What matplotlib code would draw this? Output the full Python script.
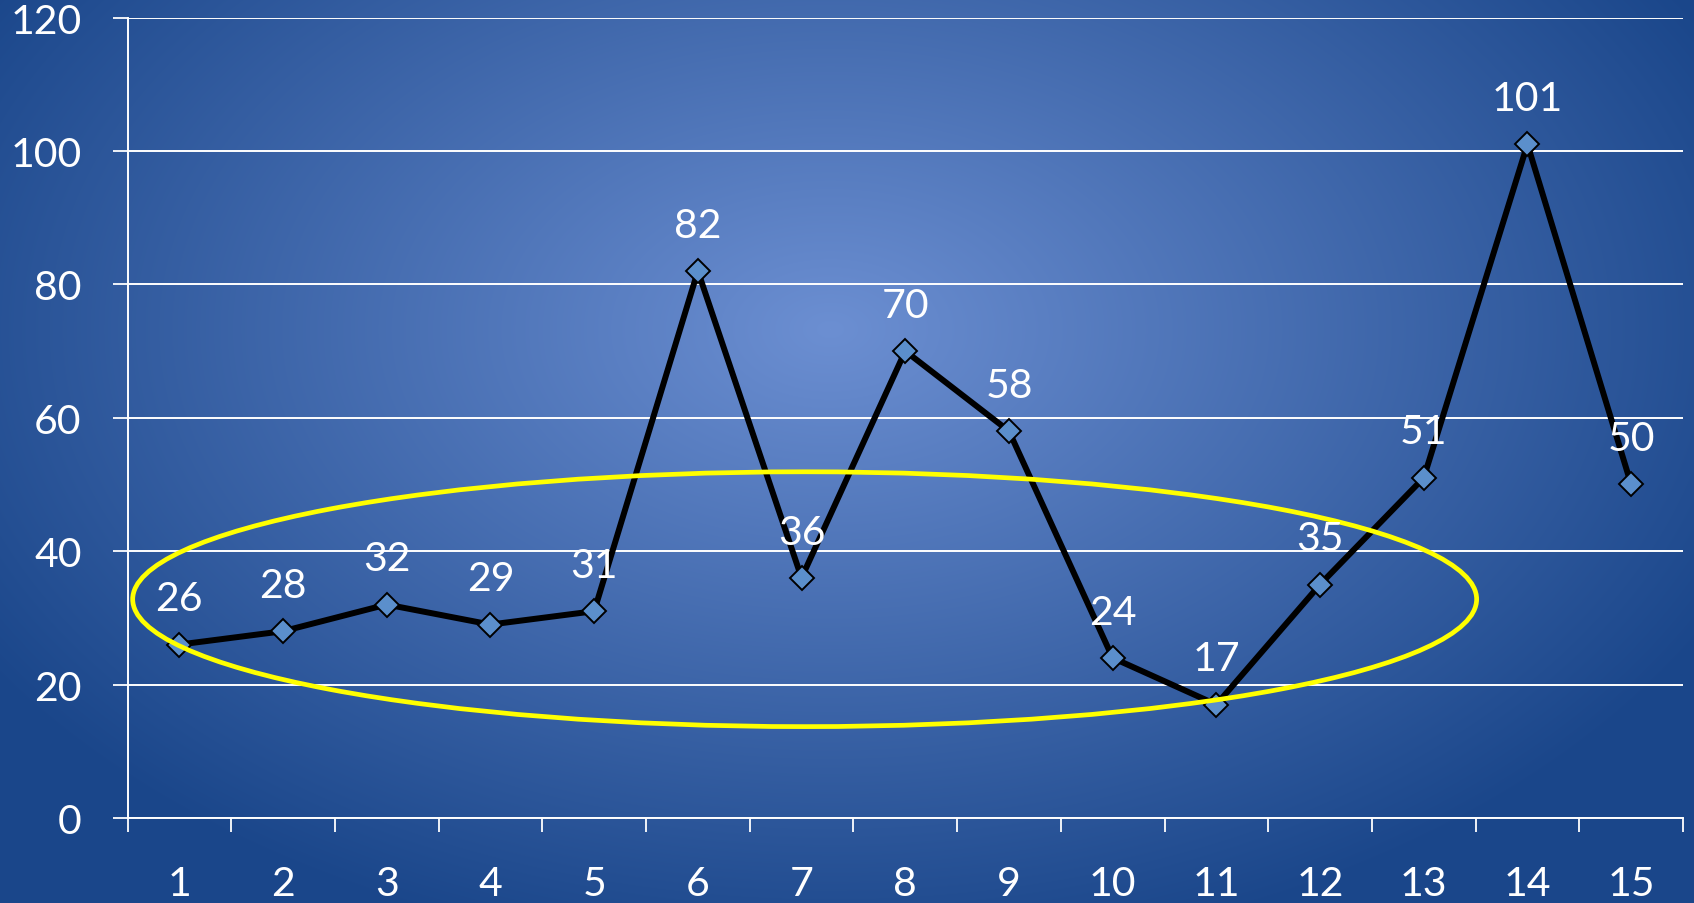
import numpy as np
import matplotlib
matplotlib.use("Agg")
import matplotlib.pyplot as plt
from matplotlib.patches import Ellipse

# data
categories = list(range(1, 16))
values = [26, 28, 32, 29, 31, 82, 36, 70, 58, 24, 17, 35, 51, 101, 50]
y_ticks = [0, 20, 40, 60, 80, 100, 120]

plt.rcParams['font.family'] = ['Lato', 'DejaVu Sans']

W, H = 1694, 904
fig = plt.figure(figsize=(W / 100, H / 100), dpi=100)

# radial gradient background
bg = fig.add_axes([0, 0, 1, 1])
yy, xx = np.mgrid[0:H, 0:W]
cx, cy = 830, 330
d = np.sqrt(((xx - cx) / 1000.0) ** 2 + ((yy - cy) / 640.0) ** 2)
d = np.clip(d, 0, 1)
c_in = np.array([108, 143, 210]) / 255.0
c_out = np.array([26, 70, 138]) / 255.0
img = c_in[None, None, :] * (1 - d[..., None]) + c_out[None, None, :] * d[..., None]
bg.imshow(img, extent=[0, W, H, 0], aspect='auto')
bg.axis('off')

ax = fig.add_axes([127.5 / W, (H - 819) / H, (1683 - 127.5) / W, (819 - 18.5) / H])
ax.set_facecolor('none')
ax.set_xlim(0.5, 15.5)
ax.set_ylim(0, 120)

for s in ['top', 'right']:
    ax.spines[s].set_visible(False)
for s in ['left', 'bottom']:
    ax.spines[s].set_color('white')
    ax.spines[s].set_linewidth(1.4)

ax.set_yticks(y_ticks)
ax.yaxis.grid(True, color='white', linewidth=1.4)
ax.set_axisbelow(True)
ax.tick_params(axis='y', colors='white', labelsize=29.5, length=11, width=1.3, pad=22)

ax.set_xticks(categories)
ax.set_xticks(np.arange(0.5, 16, 1), minor=True)
ax.tick_params(axis='x', which='major', colors='white', labelsize=29.5, length=0, pad=34)
ax.tick_params(axis='x', which='minor', colors='white', length=10, width=1.3)

ax.plot(categories, values, color='black', linewidth=4.3, marker='D',
        markersize=12.5, markerfacecolor='#5b8fcc', markeredgecolor='black',
        markeredgewidth=1.4, zorder=3, clip_on=False)

for x, v in zip(categories, values):
    ax.annotate(str(v), (x, v), xytext=(0, 33), textcoords='offset points',
                ha='center', va='center', color='white', fontsize=29.5, zorder=5)

ell = Ellipse((7.03, 32.8), 12.96, 38.2, fill=False, edgecolor='#ffff00',
              linewidth=3.4, zorder=4, clip_on=False)
ax.add_patch(ell)

fig.savefig('out.png', dpi=100)
